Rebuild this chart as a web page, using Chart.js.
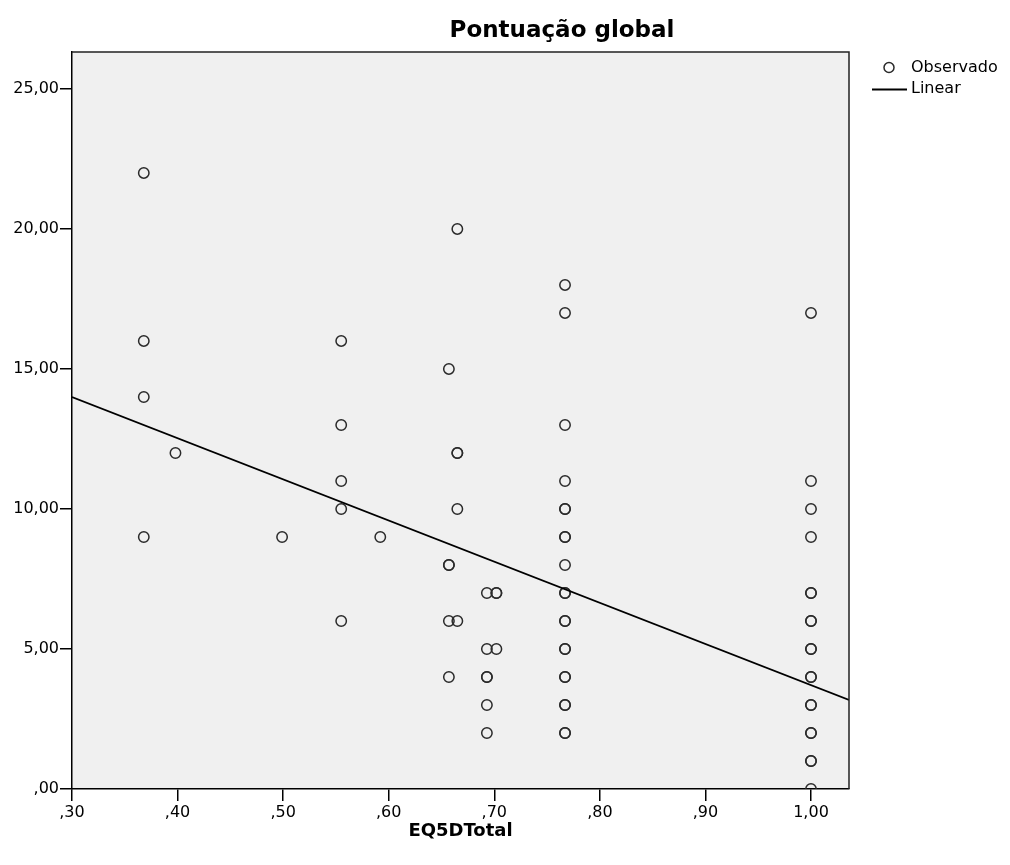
<!DOCTYPE html>
<html lang="pt">
<head>
<meta charset="UTF-8">
<title>Pontuação global</title>
<style>
  body { margin: 0; background: #fff; }
  .chart-box { width: 1010px; height: 865px; }
</style>
</head>
<body>
<div class="chart-box"><canvas id="scoreChart"></canvas></div>

<script src="https://cdn.jsdelivr.net/npm/chart.js"></script>
<script>
// EQ5DTotal values (columns) and the global scores observed at each of them
const eqColumns = [0.368, 0.398, 0.499, 0.555, 0.592, 0.657, 0.665, 0.693, 0.702, 0.767, 1.0];
const scoresByColumn = [
  [22, 16, 14, 9],
  [12],
  [9],
  [16, 13, 11, 10, 6],
  [9],
  [15, 8, 8, 6, 4],
  [20, 12, 12, 10, 6],
  [7, 5, 4, 4, 3, 2],
  [7, 7, 5],
  [18, 17, 13, 11, 10, 10, 9, 9, 8, 7, 7, 6, 6, 5, 5, 4, 4, 3, 3, 2, 2],
  [17, 11, 10, 9, 7, 7, 6, 6, 5, 5, 4, 4, 3, 3, 2, 2, 1, 1, 0]
];

// linear fit, read at both ends of the plot
const fitX = [0.30, 1.036];
const fitY = [14.0, 3.18];

const xTicks = [0.3, 0.4, 0.5, 0.6, 0.7, 0.8, 0.9, 1.0];
const yTicks = [0, 5, 10, 15, 20, 25];
const xRange = [0.30, 1.036];
const yRange = [0, 26.32];

const legendLabels = ['Observado', 'Linear'];

// SPSS style numbers: 0,30 -> ",30"
const fmt = v => {
  const s = Number(v).toFixed(2).replace('.', ',');
  return s.startsWith('0') ? s.slice(1) : s;
};

const observed = [];
eqColumns.forEach((x, i) => scoresByColumn[i].forEach(y => observed.push({ x, y })));
const fitLine = fitX.map((x, i) => ({ x, y: fitY[i] }));

Chart.defaults.font.family = "'DejaVu Sans', sans-serif";
Chart.defaults.color = '#000';

const frame = {
  id: 'frame',
  beforeDraw(chart) {
    const { ctx, chartArea: a } = chart;
    ctx.save();
    ctx.fillStyle = '#f0f0f0';
    ctx.fillRect(a.left, a.top, a.right - a.left, a.bottom - a.top);
    ctx.restore();
  },
  afterDraw(chart) {
    const { ctx, chartArea: a } = chart;
    ctx.save();
    // top and right edges of the box
    ctx.strokeStyle = '#222';
    ctx.lineWidth = 1.5;
    ctx.beginPath();
    ctx.moveTo(a.left, a.top);
    ctx.lineTo(a.right, a.top);
    ctx.lineTo(a.right, a.bottom);
    ctx.stroke();

    // title
    ctx.fillStyle = '#000';
    ctx.font = "bold 23px 'DejaVu Sans', sans-serif";
    ctx.textAlign = 'center';
    ctx.textBaseline = 'alphabetic';
    ctx.fillText('Pontuação global', 562, 37);

    // legend
    ctx.font = "16px 'DejaVu Sans', sans-serif";
    ctx.textAlign = 'left';
    ctx.textBaseline = 'middle';
    ctx.strokeStyle = '#2a2a2a';
    ctx.lineWidth = 1.5;
    ctx.beginPath();
    ctx.arc(889, 67.5, 5, 0, Math.PI * 2);
    ctx.stroke();
    ctx.fillText(legendLabels[0], 911, 68);
    ctx.strokeStyle = '#000';
    ctx.lineWidth = 1.8;
    ctx.beginPath();
    ctx.moveTo(872, 89.5);
    ctx.lineTo(907, 89.5);
    ctx.stroke();
    ctx.fillText(legendLabels[1], 911, 89);
    ctx.restore();
  }
};

new Chart(document.getElementById('scoreChart'), {
  type: 'scatter',
  data: {
    datasets: [
      {
        label: legendLabels[0],
        data: observed,
        order: 1,
        clip: 0,
        pointStyle: 'circle',
        pointRadius: 5.2,
        pointBorderWidth: 1.5,
        pointBorderColor: '#2a2a2a',
        pointBackgroundColor: 'rgba(0,0,0,0)'
      },
      {
        label: legendLabels[1],
        data: fitLine,
        order: 0,
        clip: 0,
        showLine: true,
        pointRadius: 0,
        borderColor: '#000',
        borderWidth: 1.8
      }
    ]
  },
  options: {
    responsive: true,
    maintainAspectRatio: false,
    animation: false,
    layout: { padding: { top: 52, right: 161, left: 0, bottom: 0 } },
    plugins: { legend: { display: false }, tooltip: { enabled: false } },
    scales: {
      x: {
        type: 'linear',
        min: xRange[0],
        max: xRange[1],
        bounds: 'data',
        afterBuildTicks: s => { s.ticks = xTicks.map(v => ({ value: v })); },
        afterFit: s => { s.height = 76; },
        grid: { drawOnChartArea: false, drawTicks: true, tickLength: 12, color: '#000', lineWidth: 1.5 },
        border: { display: true, color: '#000', width: 1.5 },
        ticks: { padding: 2, maxRotation: 0, autoSkip: false, font: { size: 16 }, callback: v => fmt(v) },
        title: { display: true, text: 'EQ5DTotal', font: { size: 18, weight: 'bold' }, padding: { top: 0, bottom: 23 } }
      },
      y: {
        type: 'linear',
        min: yRange[0],
        max: yRange[1],
        bounds: 'data',
        afterBuildTicks: s => { s.ticks = yTicks.map(v => ({ value: v })); },
        afterFit: s => { s.width = 72; },
        grid: { drawOnChartArea: false, drawTicks: true, tickLength: 12, color: '#000', lineWidth: 1.5 },
        border: { display: true, color: '#000', width: 1.5 },
        ticks: { padding: 1, autoSkip: false, font: { size: 16 }, callback: v => fmt(v) }
      }
    }
  },
  plugins: [frame]
});
</script>
</body>
</html>
